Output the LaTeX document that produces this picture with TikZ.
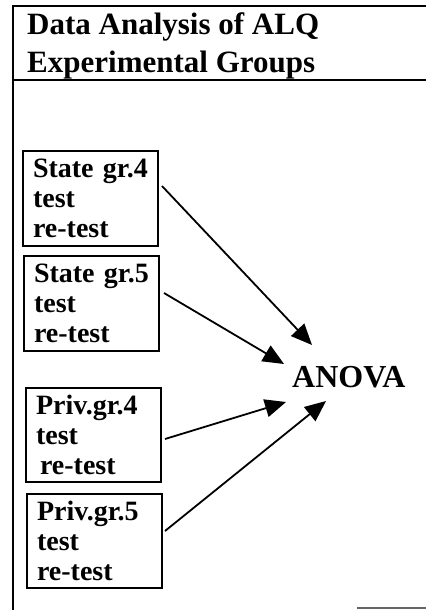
\documentclass[tikz,border=0pt]{standalone}
\usepackage{fontspec}
\setmainfont{Liberation Serif}
\usetikzlibrary{arrows.meta}
\begin{document}
\begin{tikzpicture}[x=1pt,y=-1pt,
  frame/.style={line width=1.6pt},
  grpbox/.style={draw,line width=2pt,anchor=north west,minimum width=135pt,minimum height=95pt,
     inner xsep=10pt,inner ysep=0pt,text width=115pt,align=left,
     font=\fontsize{28}{30}\selectfont\bfseries},
  arr/.style={line width=1.8pt,-{Triangle[length=21pt,width=18pt]}}]
\useasboundingbox (0,0) rectangle (426,610);
% frame
\draw[frame] (13,610) -- (13,6) -- (426,6);
\draw[frame] (13,80) -- (426,80);
\draw[line width=1.2pt,black!60] (357,608) -- (426,608);
% title
\node[anchor=base west,align=left,inner sep=0pt,font=\fontsize{31}{37}\selectfont\bfseries] (title) at (27,72)
  {Data Analysis of ALQ\\Experimental Groups};
% boxes
\node[grpbox] (b1) at (22,150) {State gr.4\\test\\re-test};
\node[grpbox] (b2) at (23,255) {State gr.5\\test\\re-test};
\node[grpbox,minimum height=94pt] (b3) at (25,387) {Priv.gr.4\\test\\\hspace*{4pt}re-test};
\node[grpbox,minimum height=94pt] (b4) at (26,493) {Priv.gr.5\\test\\re-test};
% result
\node[anchor=base west,inner sep=0pt,font=\fontsize{32}{36}\selectfont\bfseries] (anova) at (292,387) {ANOVA};
\coordinate (t1) at (312,345);
\coordinate (t2) at (284,364);
\coordinate (t3) at (286,402);
\coordinate (t4) at (326,401);
\draw[arr] ([shift={(3pt,12.5pt)}]b1.east) -- (t1);
\draw[arr] ([shift={(4pt,10.5pt)}]b2.east) -- (t2);
\draw[arr] ([shift={(3pt,-4pt)}]b3.east) -- (t3);
\draw[arr] ([shift={(2pt,10pt)}]b4.east) -- (t4);
\end{tikzpicture}
\end{document}
